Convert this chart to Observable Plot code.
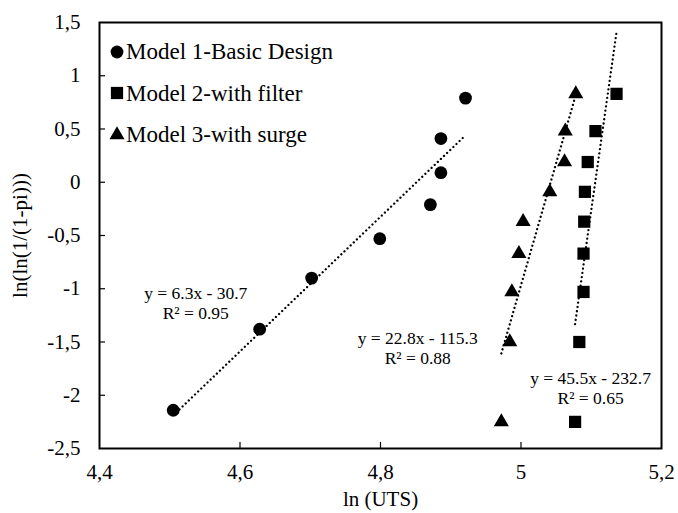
<!DOCTYPE html>
<html><head><meta charset="utf-8">
<script src="https://cdn.jsdelivr.net/npm/d3@7"></script>
<script src="https://cdn.jsdelivr.net/npm/@observablehq/plot@0.6"></script>
<style>
body{margin:0;background:#fff;}
#wrap{position:relative;width:678px;height:513px;font-family:"Liberation Serif",serif;color:#000;}
#legend{position:absolute;left:108px;top:31px;font-size:23px;line-height:1;}
.item{display:flex;align-items:center;height:41.5px;white-space:nowrap;}
</style></head><body><div id="wrap"><div id="legend"></div></div>
<script>
// Data
const seriesNames = ["Model 1-Basic Design", "Model 2-with filter", "Model 3-with surge"];
const seriesSymbols = ["circle", "square", "triangle"];
const yModel1 = [-2.14, -1.38, -0.90, -0.53, -0.21, 0.09, 0.41, 0.79];
const xModel1 = [4.505, 4.628, 4.702, 4.799, 4.871, 4.886, 4.886, 4.921];
const yModel2 = [-2.25, -1.50, -1.03, -0.67, -0.37, -0.09, 0.19, 0.48, 0.83];
const xModel2 = [5.077, 5.083, 5.089, 5.089, 5.090, 5.091, 5.095, 5.106, 5.136];
const yModel3 = [-2.25, -1.50, -1.03, -0.67, -0.37, -0.09, 0.19, 0.48, 0.83];
const xModel3 = [4.972, 4.984, 4.987, 4.997, 5.003, 5.041, 5.062, 5.063, 5.078];
const equationTexts = ["y = 6.3x - 30.7\nR² = 0.95", "y = 22.8x - 115.3\nR² = 0.88", "y = 45.5x - 232.7\nR² = 0.65"];
const xTicks = [4.4, 4.6, 4.8, 5, 5.2];
const yTicks = [-2.5, -2, -1.5, -1, -0.5, 0, 0.5, 1, 1.5];

const rows = [];
[[xModel1, yModel1], [xModel2, yModel2], [xModel3, yModel3]].forEach(([xs, ys], i) => {
  xs.forEach((x, j) => rows.push({series: seriesNames[i], symbol: seriesSymbols[i], x, y: ys[j]}));
});
// annotation anchors (label placement)
const eqPos = [[4.537, -1.13], [4.853, -1.552], [5.099, -1.927]];
const eqRows = equationTexts.map((t, i) => ({text: t, x: eqPos[i][0], y: eqPos[i][1]}));

const fmt = d => String(d).replace(".", ",");
const W = 678, H = 513, mL = 99, mR = 17, mT = 22, mB = 65;
const innerW = W - mL - mR, innerH = H - mT - mB;

const chart = Plot.plot({
  width: W, height: H, marginLeft: mL, marginRight: mR, marginTop: mT, marginBottom: mB,
  style: {fontFamily: "Liberation Serif, serif", fontSize: "20px", color: "#000", background: "#fff"},
  x: {domain: [4.4, 5.2]},
  y: {domain: [-2.5, 1.5]},
  symbol: {domain: seriesSymbols, range: seriesSymbols},
  marks: [
    Plot.axisX({ticks: xTicks, tickSize: 0, tickPadding: 16, tickFormat: fmt, label: "ln (UTS)", labelAnchor: "center", labelArrow: "none", labelOffset: 57, fontSize: 21}),
    Plot.axisY({ticks: yTicks, tickSize: 0, tickPadding: 19, tickFormat: fmt, label: "ln(ln(1/(1-pi)))", labelAnchor: "center", labelArrow: "none", labelOffset: 87, fontSize: 21}),
    Plot.tickX(xTicks.slice(1, -1), {x: d => d, insetTop: innerH - 6, stroke: "#000", strokeWidth: 1.2}),
    Plot.tickY(yTicks.slice(1, -1), {y: d => d, insetRight: innerW - 6, stroke: "#000", strokeWidth: 1.2}),
    Plot.linearRegressionY(rows, {x: "x", y: "y", z: "series", ci: 0, stroke: "#000", strokeWidth: 2.3, strokeDasharray: "0.01 4.3", strokeLinecap: "round"}),
    Plot.dot(rows.filter(d => d.symbol === "circle"), {x: "x", y: "y", symbol: "symbol", r: 6.4, fill: "#000", stroke: "none"}),
    Plot.dot(rows.filter(d => d.symbol === "square"), {x: "x", y: "y", symbol: "symbol", r: 6.9, fill: "#000", stroke: "none"}),
    Plot.dot(rows.filter(d => d.symbol === "triangle"), {x: "x", y: "y", symbol: "symbol", r: 5.6, fill: "#000", stroke: "none"}),
    Plot.text(eqRows, {x: "x", y: "y", text: "text", fontSize: 17.5, lineHeight: 1.12, textAnchor: "middle", fill: "#000"}),
    Plot.frame({stroke: "#000", strokeWidth: 2})
  ]
});
document.getElementById("wrap").prepend(chart);

// legend inside the plot area
const legend = document.getElementById("legend");
const sym = {circle: d3.symbolCircle, square: d3.symbolSquare, triangle: d3.symbolTriangle};
const sizes = {circle: Math.PI * 6.4 * 6.4, square: Math.PI * 6.9 * 6.9, triangle: Math.PI * 5.6 * 5.6};
seriesNames.forEach((name, i) => {
  const s = seriesSymbols[i];
  const item = document.createElement("div");
  item.className = "item";
  item.innerHTML = `<svg width="18" height="18" viewBox="-9 -9 18 18"><path d="${d3.symbol(sym[s], sizes[s])()}" fill="#000"/></svg><span>${name}</span>`;
  legend.appendChild(item);
});
</script>
</body></html>
